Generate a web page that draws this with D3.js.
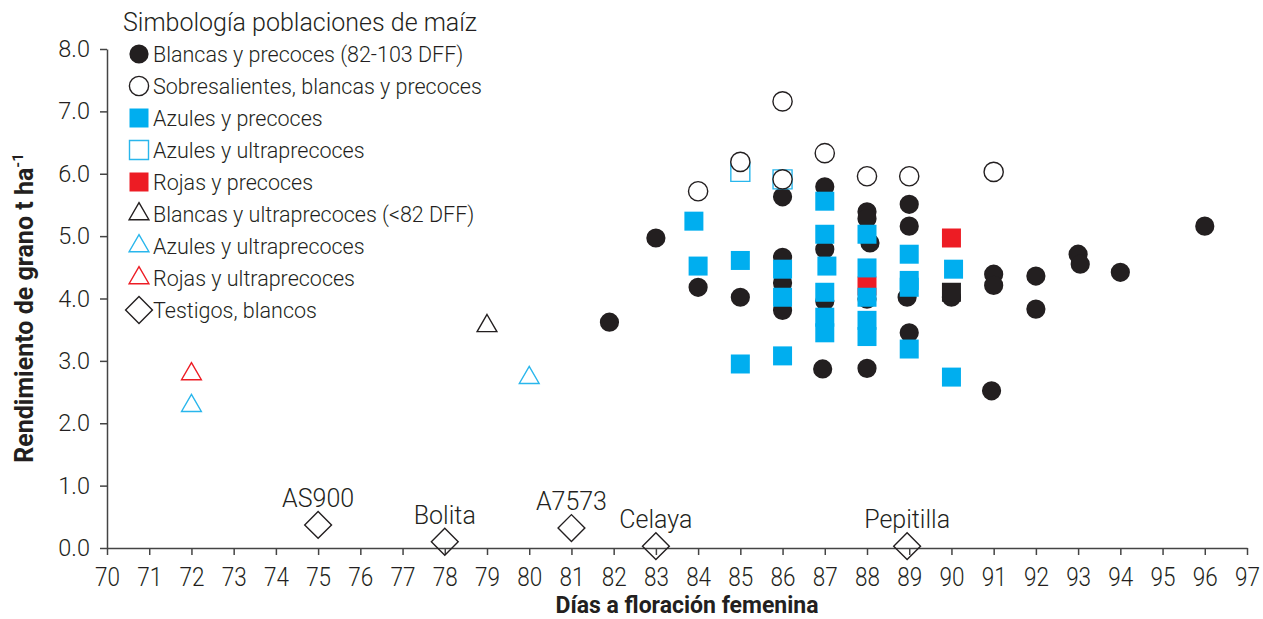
<!DOCTYPE html>
<html>
<head>
<meta charset="utf-8">
<script src="https://cdn.jsdelivr.net/npm/d3@7"></script>
<style>
  body { margin: 0; background: #fff; }
  svg text { font-family: Roboto, "Open Sans", sans-serif; fill: #231f20; }
</style>
</head>
<body>
<svg id="chart"></svg>
<script>
const WIDTH = 1263
const HEIGHT = 619

// [días a floración femenina, rendimiento t/ha]
const blancasPrecoces = [
  [81.9, 3.62], [83, 4.97], [84, 4.18], [85, 4.02],
  [86, 5.63], [86, 4.66], [86, 4.25], [86, 3.81],
  [87, 5.79], [87, 4.79], [87, 3.96], [86.95, 2.87],
  [88, 5.39], [88, 5.28], [88.07, 4.89], [88, 3.99], [88, 2.88],
  [89, 5.51], [89, 5.16], [88.95, 4.02], [89, 3.45],
  [90, 4.02], [91, 4.39], [91, 4.21], [90.95, 2.52],
  [92, 4.36], [92, 3.83], [93, 4.71], [93.05, 4.55], [94, 4.42], [96, 5.16]
]
const sobresalientes = [
  [84, 5.72], [85, 6.19], [86, 7.16], [86, 5.91], [87, 6.33], [88, 5.96], [89, 5.96], [91, 6.03]
]
const azulesPrecoces = [
  [83.9, 5.24], [84, 4.52], [85, 4.61], [85, 2.95],
  [86, 4.47], [86, 4.02], [86, 3.08],
  [87, 5.56], [87, 5.03], [87.05, 4.52], [87, 4.1], [87, 3.7], [87, 3.45],
  [88, 5.03], [88, 4.49], [88, 4.02], [88, 3.65], [88, 3.39],
  [89, 4.71], [89, 4.29], [89, 4.18], [89, 3.19],
  [90.05, 4.47], [90, 2.74]
]
const azulesUltraCuadro = [[85, 6.03], [86, 5.91]]
const rojasPrecoces = [[88, 4.2], [90, 4.97]]
const blancasCuadro = [[90, 4.1]]
const blancasUltra = [[79, 3.56]]
const azulesUltra = [[72, 2.28], [80, 2.73]]
const rojasUltra = [[72, 2.79]]
const testigos = [
  ["AS900", 75, 0.37], ["Bolita", 78, 0.1], ["A7573", 81, 0.32],
  ["Celaya", 83, 0.03], ["Pepitilla", 88.95, 0.03]
]
const xTicks = d3.range(70, 98)
const yTicks = [0, 1, 2, 3, 4, 5, 6, 7, 8]

const legendItems = [
  ["Blancas y precoces (82-103 DFF)", "circle", "#231f20", true],
  ["Sobresalientes, blancas y precoces", "circle", "#231f20", false],
  ["Azules y precoces", "square", "#00aeef", true],
  ["Azules y ultraprecoces", "square", "#29b6ec", false],
  ["Rojas y precoces", "square", "#ed1c24", true],
  ["Blancas y ultraprecoces (<82 DFF)", "triangle", "#231f20", false],
  ["Azules y ultraprecoces", "triangle", "#29b6ec", false],
  ["Rojas y ultraprecoces", "triangle", "#ed1c24", false],
  ["Testigos, blancos", "diamond", "#231f20", false]
]

const x = d3.scaleLinear().domain([70, 97]).range([107, 1247])
const y = d3.scaleLinear().domain([0, 8]).range([548, 49])

const svg = d3.select("#chart").attr("width", WIDTH).attr("height", HEIGHT)

const shapes = {
  circle: d3.symbol().type(d3.symbolCircle).size(290)(),
  square: d3.symbol().type(d3.symbolSquare).size(361)(),
  triangle: d3.symbol().type(d3.symbolTriangle).size(170)(),
  diamond: d3.symbol().type(d3.symbolSquare).size(360)()
}

function symbolAttrs(sel, shape, color, filled) {
  sel
    .attr("d", shapes[shape])
    .attr("fill", filled ? color : shape === "triangle" || shape === "diamond" ? "none" : "#fff")
    .attr("stroke", filled ? "none" : color)
    .attr("stroke-width", 1.4)
}

// axes
const xAxis = svg
  .append("g")
  .attr("transform", `translate(0,${y(0)})`)
  .call(d3.axisBottom(x).tickValues(xTicks).tickSize(7).tickSizeOuter(0).tickFormat(d3.format("d")))
xAxis.select(".domain").attr("stroke", "#444").attr("stroke-width", 1.5)
xAxis.selectAll(".tick line").attr("stroke", "#444").attr("stroke-width", 1.5)
xAxis
  .selectAll(".tick text")
  .attr("y", 38)
  .attr("dy", null)
  .attr("transform", "scale(0.9,1)")
  .style("font-size", "25px")
  .style("font-weight", 300)
  .attr("fill", "#333")

const yAxis = svg
  .append("g")
  .attr("transform", `translate(${x(70)},0)`)
  .call(d3.axisLeft(y).tickValues(yTicks).tickSize(7).tickSizeOuter(0).tickFormat(d3.format(".1f")))
yAxis.select(".domain").attr("stroke", "#444").attr("stroke-width", 1.5)
yAxis.selectAll(".tick line").attr("stroke", "#444").attr("stroke-width", 1.5)
yAxis
  .selectAll(".tick text")
  .attr("x", -17)
  .style("font-size", "23.5px")
  .style("font-weight", 300)
  .attr("fill", "#333")

// axis titles
svg
  .append("text")
  .attr("x", 687)
  .attr("y", 613)
  .attr("text-anchor", "middle")
  .style("font-size", "23px")
  .style("font-weight", 700)
  .text("Días a floración femenina")

const yTitle = svg
  .append("text")
  .attr("transform", "translate(33,308) rotate(-90)")
  .attr("text-anchor", "middle")
  .style("font-size", "25px")
  .style("font-weight", 700)
yTitle.append("tspan").text("Rendimiento de grano t ha")
yTitle.append("tspan").attr("dy", -10).style("font-size", "15px").text("-1")

// points
function drawSeries(data, shape, color, filled) {
  svg
    .append("g")
    .selectAll("path")
    .data(data)
    .join("path")
    .call(symbolAttrs, shape, color, filled)
    .attr("transform", (d) => `translate(${x(d[0])},${y(d[1])})`)
}

drawSeries(blancasPrecoces, "circle", "#231f20", true)
drawSeries(rojasPrecoces, "square", "#ed1c24", true)
drawSeries(azulesPrecoces, "square", "#00aeef", true)
drawSeries(blancasCuadro, "square", "#231f20", true)
drawSeries(azulesUltraCuadro, "square", "#29b6ec", false)
drawSeries(sobresalientes, "circle", "#231f20", false)
drawSeries(blancasUltra, "triangle", "#231f20", false)
drawSeries(azulesUltra, "triangle", "#29b6ec", false)
drawSeries(rojasUltra, "triangle", "#ed1c24", false)

const testigoG = svg.append("g").selectAll("g").data(testigos).join("g")
  .attr("transform", (d) => `translate(${x(d[1])},${y(d[2])})`)
testigoG
  .append("path")
  .call(symbolAttrs, "diamond", "#231f20", false)
  .attr("transform", "rotate(45)")
testigoG
  .append("text")
  .attr("y", -18)
  .attr("text-anchor", "middle")
  .style("font-size", "25px")
  .style("font-weight", 300)
  .text((d) => d[0])

// legend
const legend = svg.append("g")
legend
  .append("text")
  .attr("x", 123)
  .attr("y", 31)
  .style("font-size", "25px")
  .style("font-weight", 300)
  .text("Simbología poblaciones de maíz")

const rows = legend
  .selectAll("g.row")
  .data(legendItems)
  .join("g")
  .attr("class", "row")
  .attr("transform", (d, i) => `translate(139,${54 + i * 32})`)
rows
  .append("path")
  .each(function (d) {
    d3.select(this).call(symbolAttrs, d[1], d[2], d[3])
    if (d[1] === "diamond") d3.select(this).attr("transform", "rotate(45)")
  })
rows
  .append("text")
  .attr("x", 14)
  .attr("dy", "0.35em")
  .style("font-size", "21.5px")
  .style("font-weight", 300)
  .text((d) => d[0])
</script>
</body>
</html>
